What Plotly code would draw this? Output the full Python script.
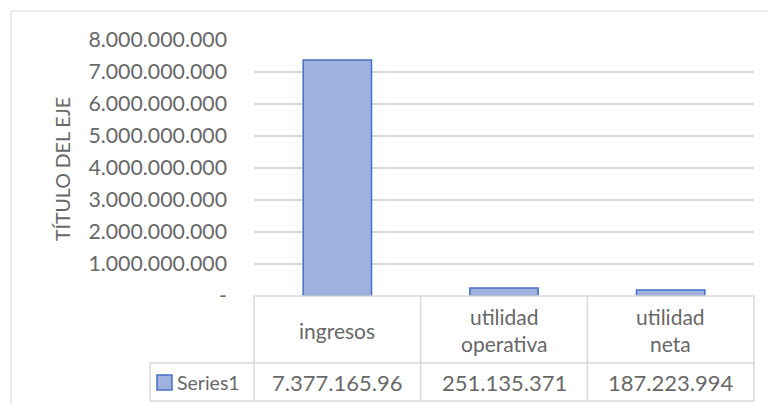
import plotly.graph_objects as go

categories = ["ingresos", "utilidad operativa", "utilidad neta"]
header_labels = ["ingresos", "utilidad<br>operativa", "utilidad<br>neta"]
values = [7377165960, 251135371, 187223994]
series_name = "Series1"
tick_vals = [0, 1e9, 2e9, 3e9, 4e9, 5e9, 6e9, 7e9, 8e9]
tick_text = ["-", "1.000.000.000", "2.000.000.000", "3.000.000.000", "4.000.000.000",
             "5.000.000.000", "6.000.000.000", "7.000.000.000", "8.000.000.000"]

# page body has an 8px margin, so the figure is shifted by that much
OFF = 8
W, H = 775 - OFF, 405 - OFF
L, R, T, B = 254 - OFF, 21, 40 - OFF, 109
PW, PH = W - L - R, H - T - B

def px(x):
    return (x - OFF - L) / PW

def py(y):
    return (H - B - (y - OFF)) / PH

def dots(v):
    return f"{int(v):,}".replace(",", ".")

grey = "#686868"
line_c = "#d9d9d9"
font = "Lato"

fig = go.Figure(go.Bar(
    x=categories, y=values, name=series_name,
    marker=dict(color="#9fb1de", line=dict(color="#4472c4", width=1.5)),
))

shapes = []
# chart area border
shapes.append(dict(type="rect", xref="paper", yref="paper",
                   x0=px(11), x1=px(790), y0=py(11), y1=py(420),
                   line=dict(color="#d9d9d9", width=1)))

# data table lines
n = len(categories)
row1 = py(363)
row2 = py(401)
shapes.append(dict(type="line", xref="paper", yref="paper", x0=0, x1=1, y0=0, y1=0,
                   line=dict(color=line_c, width=1.5)))
for yy in (row1, row2):
    shapes.append(dict(type="line", xref="paper", yref="paper", x0=px(150), x1=1, y0=yy, y1=yy,
                       line=dict(color=line_c, width=1.5)))
for i in range(n + 1):
    shapes.append(dict(type="line", xref="paper", yref="paper", x0=i / n, x1=i / n, y0=0, y1=row2,
                       line=dict(color=line_c, width=1.5)))
shapes.append(dict(type="line", xref="paper", yref="paper", x0=px(150), x1=px(150), y0=row1, y1=row2,
                   line=dict(color=line_c, width=1.5)))
# legend key
shapes.append(dict(type="rect", xref="paper", yref="paper", x0=px(157), x1=px(172), y0=py(375), y1=py(390),
                   fillcolor="#9fb1de", line=dict(color="#4472c4", width=1.5)))

annotations = []
for i, (lab, v) in enumerate(zip(header_labels, values)):
    cx = (i + 0.5) / n
    annotations.append(dict(x=cx, y=py(330), xref="paper", yref="paper", text=lab, showarrow=False,
                            xanchor="center", yanchor="middle", align="center",
                            font=dict(size=21, color=grey, family=font)))
    # Excel clips the cell text to 12 characters
    annotations.append(dict(x=cx, y=py(382), xref="paper", yref="paper", text=dots(v)[:12], showarrow=False,
                            xanchor="center", yanchor="middle",
                            font=dict(size=22, color=grey, family=font)))
annotations.append(dict(x=px(175), y=py(382), xref="paper", yref="paper", text=series_name, showarrow=False,
                        xanchor="left", yanchor="middle", font=dict(size=19.5, color=grey, family=font)))
annotations.append(dict(x=px(62), y=py(169), xref="paper", yref="paper", text="TÍTULO DEL EJE", showarrow=False,
                        xanchor="center", yanchor="middle", textangle=-90,
                        font=dict(size=19.5, color=grey, family=font)))

fig.update_layout(
    width=W, height=H,
    margin=dict(l=L, r=R, t=T, b=B),
    paper_bgcolor="white", plot_bgcolor="white",
    showlegend=False, bargap=0.59,
    font=dict(family=font, color=grey),
    shapes=shapes, annotations=annotations,
    xaxis=dict(showticklabels=False, showgrid=False, zeroline=False, showline=False),
    yaxis=dict(range=[0, 8e9], tickvals=tick_vals, ticktext=tick_text,
               tickfont=dict(size=21.3, color=grey, family=font),
               showgrid=True, gridcolor=line_c, gridwidth=1.5, zeroline=False,
               ticklabelstandoff=26),
)

fig.write_html("out.html")
